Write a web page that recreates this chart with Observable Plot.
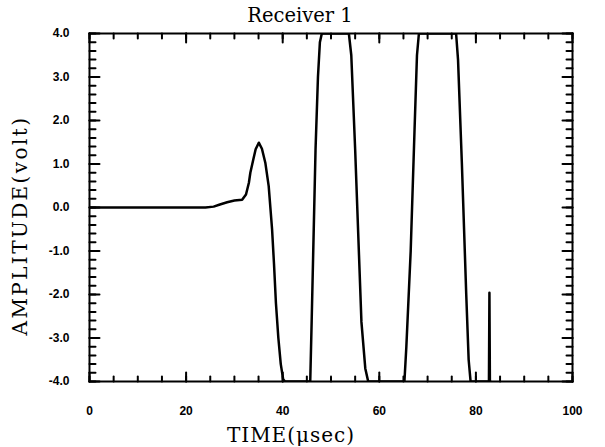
<!DOCTYPE html>
<html>
<head>
<meta charset="utf-8">
<script src="https://cdn.jsdelivr.net/npm/d3@7"></script>
<script src="https://cdn.jsdelivr.net/npm/@observablehq/plot@0.6"></script>
<style>
  html, body { margin: 0; padding: 0; background: #fff; }
</style>
</head>
<body>
<div id="chart"></div>
<script>
// Waveform (time in µs, amplitude in volt)
const times = [0, 24, 25.7, 27, 28.5, 30, 31.6, 32.4, 33.0, 33.3, 33.9, 34.4, 35.05, 35.7, 36.4, 37.1, 37.8, 38.2, 38.6, 39.1, 39.6, 40.1, 40.5,
  45.7, 46.0, 46.8, 47.3, 47.7, 48.1, 53.7, 54.2, 55.0, 56.3, 57.1, 57.7,
  65.2, 65.6, 66.5, 67.3, 67.8, 68.2, 75.9, 76.3, 77.1, 78.0, 78.5, 78.9,
  82.7, 82.8, 82.9, 83.0];
const amps = [0, 0, 0.02, 0.07, 0.12, 0.16, 0.18, 0.3, 0.57, 0.8, 1.1, 1.34, 1.49, 1.35, 1.03, 0.49, -0.5, -1.3, -2.2, -3.0, -3.6, -3.95, -4,
  -4, -2.6, 1.34, 3.0, 3.8, 4, 4, 3.5, 1.34, -2.63, -3.7, -4,
  -4, -3.2, -1.0, 1.8, 3.5, 4, 4, 3.4, 1.0, -2.0, -3.5, -4,
  -4, -1.96, -4, -4];

const xTickLabels = [0, 20, 40, 60, 80, 100];
const yTickLabels = [-4, -3, -2, -1, 0, 1, 2, 3, 4];
const xMinor = d3.range(0, 101, 5);
const yMinor = d3.range(-4, 4.001, 0.2).map(v => Math.round(v * 10) / 10);

const titleText = "Receiver 1";
const xLabelText = "TIME(\u03BCsec)";
const yLabelText = "AMPLITUDE(volt)";

const data = times.map((t, i) => ({t, v: amps[i]}));

const W = 605, H = 447, mL = 89, mR = 33, mT = 33, mB = 66;
const frameH = H - mT - mB;
const frameW = W - mL - mR;
// tick lengths in pixels converted to data units
const xPx = 100 / frameW, yPx = 8 / frameH;
const serif = "'DejaVu Serif', 'Liberation Serif', serif";
const sans = "'Liberation Sans', Arial, sans-serif";

// build inward tick segments (two points each) from the tick value arrays
const tickSegs = [];
let segId = 0;
function addX(vals, len) {
  for (const v of vals) {
    tickSegs.push({x: v, y: -4, id: segId}, {x: v, y: -4 + len * yPx, id: segId++});
    tickSegs.push({x: v, y: 4, id: segId}, {x: v, y: 4 - len * yPx, id: segId++});
  }
}
function addY(vals, len) {
  for (const v of vals) {
    tickSegs.push({x: 0, y: v, id: segId}, {x: len * xPx, y: v, id: segId++});
    tickSegs.push({x: 100, y: v, id: segId}, {x: 100 - len * xPx, y: v, id: segId++});
  }
}
addX(xMinor, 5); addX(xTickLabels, 9);
addY(yMinor, 6); addY(yTickLabels, 10);

const chart = Plot.plot({
  width: W, height: H,
  marginLeft: mL, marginRight: mR, marginTop: mT, marginBottom: mB,
  x: {domain: [0, 100], axis: null},
  y: {domain: [-4, 4], axis: null},
  style: {background: "#fff", color: "#000"},
  marks: [
    Plot.frame({stroke: "#000", fill: "none", strokeWidth: 2}),
    Plot.line(tickSegs, {x: "x", y: "y", z: "id", stroke: "#000", strokeWidth: 2}),
    Plot.line(data, {x: "t", y: "v", stroke: "#000", strokeWidth: 2.5, clip: true, strokeLinejoin: "round"}),
    Plot.axisX({ticks: xTickLabels, tickSize: 0, tickPadding: 25, tickFormat: d => String(d),
      fontFamily: sans, fontWeight: "bold", fontSize: 12, label: null}),
    Plot.axisY({ticks: yTickLabels, tickSize: 0, tickPadding: 20, tickFormat: d => d.toFixed(1),
      fontFamily: sans, fontWeight: "bold", fontSize: 12, label: null}),
    Plot.text([titleText], {frameAnchor: "top", dx: -31, dy: -18, text: d => d,
      textAnchor: "middle", lineAnchor: "middle",
      fontFamily: serif, fontSize: 19.5, fill: "#000"}),
    Plot.text([xLabelText], {frameAnchor: "bottom", dx: -40, dy: 54, text: d => d,
      textAnchor: "middle", lineAnchor: "middle",
      fontFamily: serif, fontSize: 20, fill: "#000"}),
    Plot.text([yLabelText], {frameAnchor: "left", dx: -69, dy: 18, rotate: -90, text: d => d,
      textAnchor: "middle", lineAnchor: "middle",
      fontFamily: serif, fontSize: 20, fill: "#000"})
  ]
});
// letter spacing on the serif axis titles, as in the original figure
d3.select(chart).selectAll("text")
  .filter(function() { return this.textContent === xLabelText; })
  .style("letter-spacing", "1px");
d3.select(chart).selectAll("text")
  .filter(function() { return this.textContent === yLabelText; })
  .style("letter-spacing", "2.4px");
document.getElementById("chart").appendChild(chart);
</script>
</body>
</html>
